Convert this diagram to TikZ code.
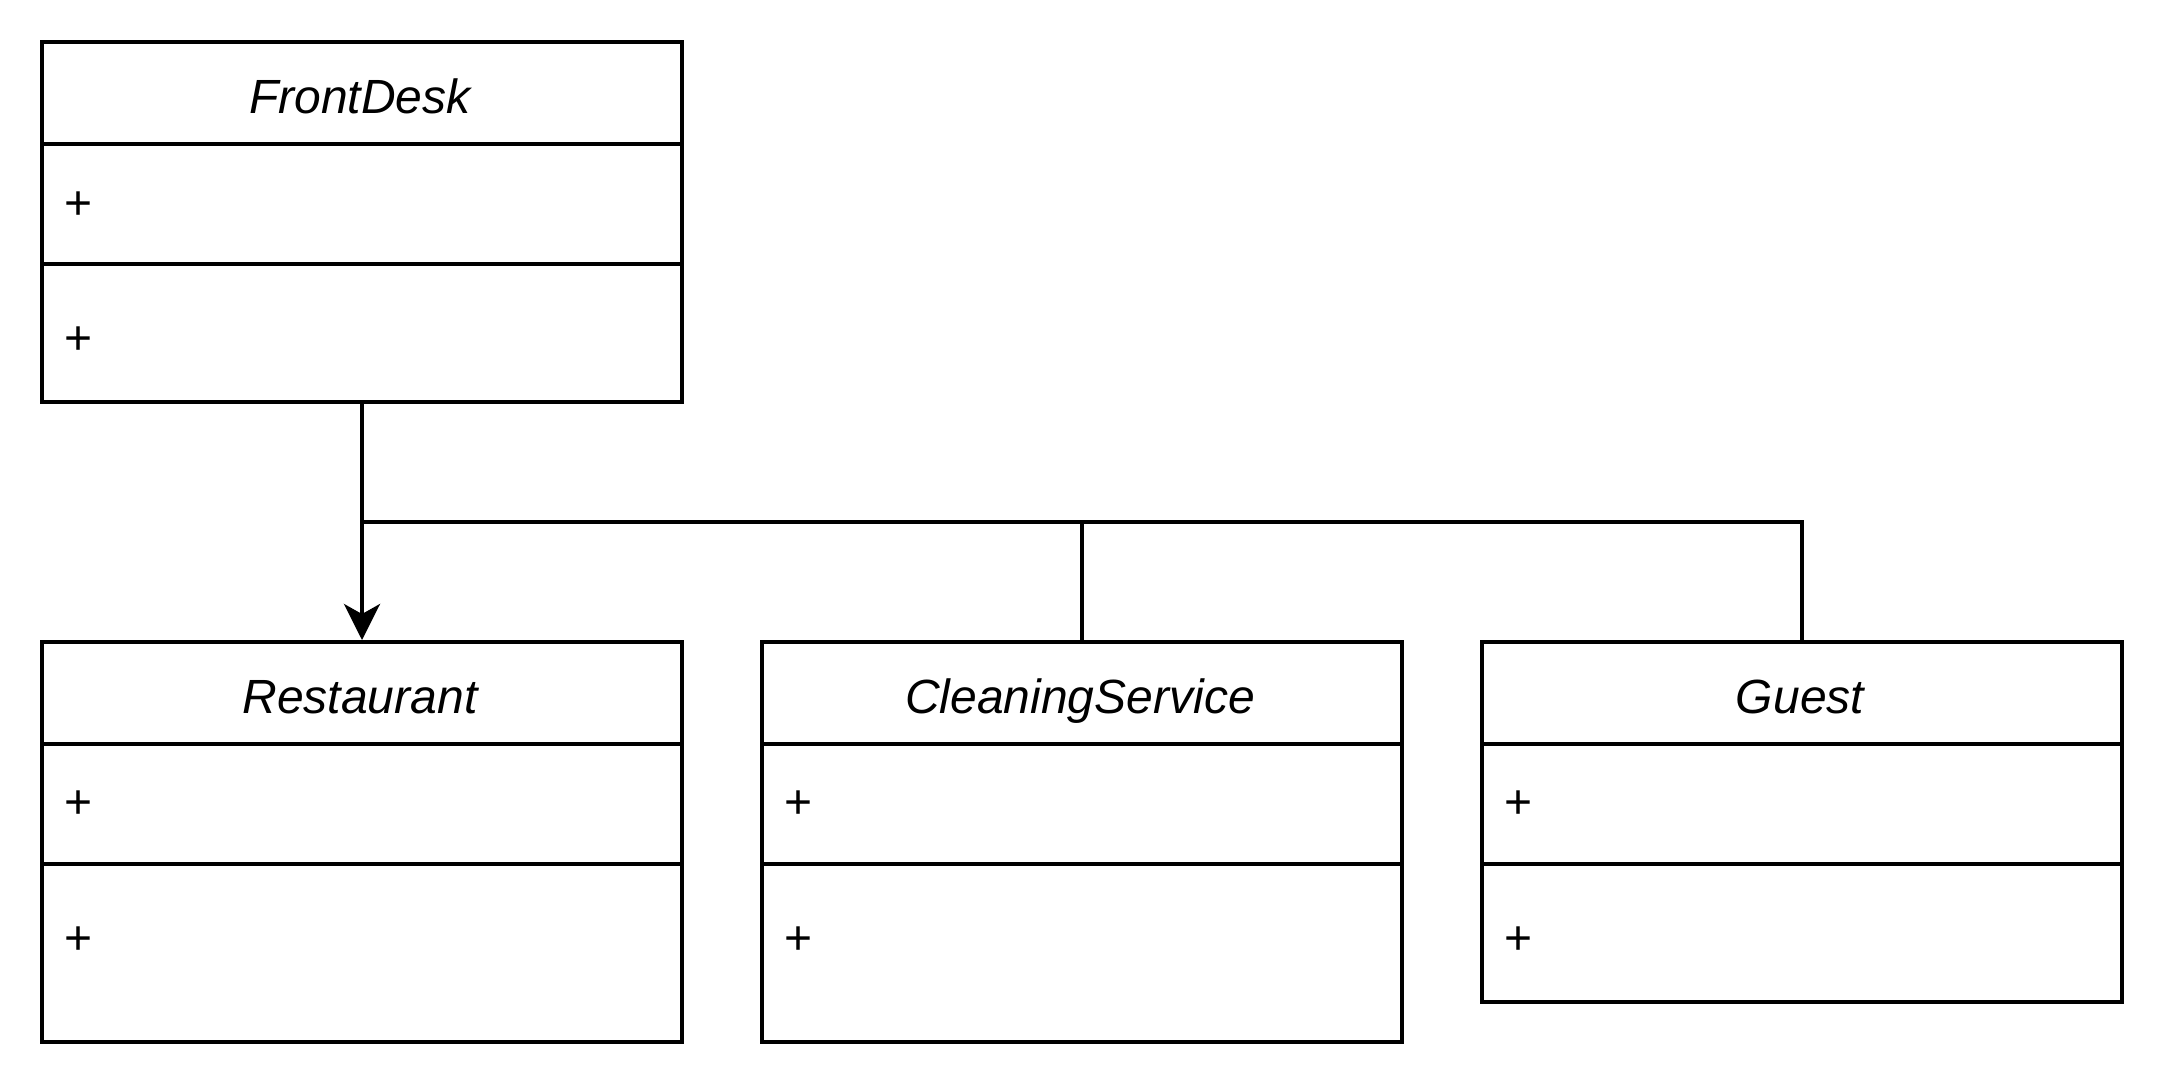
\documentclass[tikz,border=0pt]{standalone}
\usepackage{fontspec}
\setmainfont{Liberation Sans}
\usetikzlibrary{arrows.meta,calc}

\begin{document}
\begin{tikzpicture}[x=1pt,y=-1pt,line width=1pt,
    classbox/.style={draw,minimum width=160pt,anchor=north west,inner sep=0pt},
    classname/.style={anchor=base,inner sep=0pt,font=\itshape\fontsize{12}{14}\selectfont},
    member/.style={anchor=west,inner sep=0pt,font=\fontsize{12}{14}\selectfont}]
\useasboundingbox (0,0) rectangle (541,271);

    \begin{scope}[every node/.style={classbox}]
        \node[minimum height=90pt] (frontdesk) at (10,10) {}; % Top class
        \node[minimum height=100pt] (restaurant) at (10,160) {};
        \node[minimum height=100pt] (cleaning) at (190,160) {};
        \node[minimum height=90pt] (guest) at (370,160) {};
    \end{scope}

    % Class names %
    \node[classname] (frontdesk-name) at (90,28.3) {FrontDesk};
    \node[classname] (restaurant-name) at (90,178.3) {Restaurant};
    \node[classname] (cleaning-name) at (270,178.3) {CleaningService};
    \node[classname] (guest-name) at (450,178.3) {Guest};

    % Compartment lines %
    \draw ([yshift=-26pt]frontdesk.north west) -- ([yshift=-26pt]frontdesk.north east);
    \draw ([yshift=-56pt]frontdesk.north west) -- ([yshift=-56pt]frontdesk.north east);
    \draw ([yshift=-26pt]restaurant.north west) -- ([yshift=-26pt]restaurant.north east);
    \draw ([yshift=-56pt]restaurant.north west) -- ([yshift=-56pt]restaurant.north east);
    \draw ([yshift=-26pt]cleaning.north west) -- ([yshift=-26pt]cleaning.north east);
    \draw ([yshift=-56pt]cleaning.north west) -- ([yshift=-56pt]cleaning.north east);
    \draw ([yshift=-26pt]guest.north west) -- ([yshift=-26pt]guest.north east);
    \draw ([yshift=-56pt]guest.north west) -- ([yshift=-56pt]guest.north east);

    % Members %
    \node[member] (frontdesk-attr) at (15.7,51.4) {+};
    \node[member] (frontdesk-op) at (15.7,85.2) {+};
    \node[member] (restaurant-attr) at (15.7,201.1) {+};
    \node[member] (restaurant-op) at (15.7,235.2) {+};
    \node[member] (cleaning-attr) at (195.7,201.1) {+};
    \node[member] (cleaning-op) at (195.7,235.2) {+};
    \node[member] (guest-attr) at (375.7,201.1) {+};
    \node[member] (guest-op) at (375.7,235.2) {+};

    % Connectors %
    \coordinate (bus) at ($(frontdesk.south)!0.5!(restaurant.north)$);
    \draw[-{Stealth[length=9pt,width=9pt,inset=2.5pt]}] (frontdesk.south) -- (restaurant.north);
    \draw (bus) -| (guest.north);
    \draw (cleaning.north) -- (cleaning.north |- bus);

\end{tikzpicture}
\end{document}
